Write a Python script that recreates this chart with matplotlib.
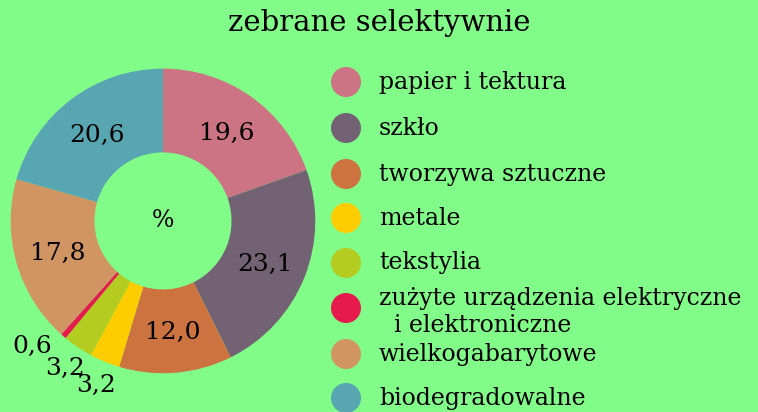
import numpy as np
import matplotlib.pyplot as plt
from matplotlib.patches import Circle

categories = ["papier i tektura", "szkło", "tworzywa sztuczne", "metale", "tekstylia",
              "zużyte urządzenia elektryczne\n  i elektroniczne", "wielkogabarytowe",
              "biodegradowalne"]
values = [19.6, 23.1, 12.0, 3.2, 3.2, 0.6, 17.8, 20.6]
value_labels = ["19,6", "23,1", "12,0", "3,2", "3,2", "0,6", "17,8", "20,6"]
colors = ["#CC7384", "#736273", "#CC7340", "#FFCC00", "#B3CC1F", "#E61A4D", "#D19563", "#59A6B3"]
bg = "#82FC88"

plt.rcParams['font.family'] = ['DejaVu Serif']

fig = plt.figure(figsize=(7.58, 4.12), dpi=100, facecolor=bg)
ax = fig.add_axes([0.0, 0.0, 0.43, 1.0])
ax.set_facecolor(bg)
ax.axis('off')

wedges, _ = ax.pie(values, colors=colors, startangle=90, counterclock=False,
                   radius=1.0, wedgeprops=dict(width=0.55, linewidth=0))
ax.set_xlim(-1.07, 1.07)
ax.set_ylim(-1.252, 1.448)
ax.set_aspect('equal')

total = sum(values)
start = 90.0
for i, (v, lab) in enumerate(zip(values, value_labels)):
    span = v / total * 360
    mid = start - span / 2
    if v >= 5:
        r = 0.72
    elif v < 1:
        # smallest slice label pushed aside so it does not hit its neighbour
        r = 1.18
        mid -= 6
    else:
        r = 1.15
    a = np.deg2rad(mid)
    ax.text(r * np.cos(a), r * np.sin(a), lab, ha='center', va='center_baseline',
            fontsize=18)
    start -= span

ax.text(0, 0, "%", ha='center', va='center', fontsize=17)

fig.text(0.5, 0.945, "zebrane selektywnie", ha='center', va='center', fontsize=21)

# legend, drawn in pixel coordinates
lax = fig.add_axes([0, 0, 1, 1])
lax.set_xlim(0, 758)
lax.set_ylim(412, 0)
lax.axis('off')
lx = 346
ly = [82, 128, 174, 218, 263, 308, 354, 398]
for y, c, name in zip(ly, colors, categories):
    lax.add_patch(Circle((lx, y), 15, color=c, lw=0))
    if "\n" in name:
        lax.text(379, y + 4, name, ha='left', va='center', fontsize=17, linespacing=1.25)
    else:
        lax.text(379, y, name, ha='left', va='center', fontsize=17)

fig.savefig("out.png", dpi=100, facecolor=bg)
